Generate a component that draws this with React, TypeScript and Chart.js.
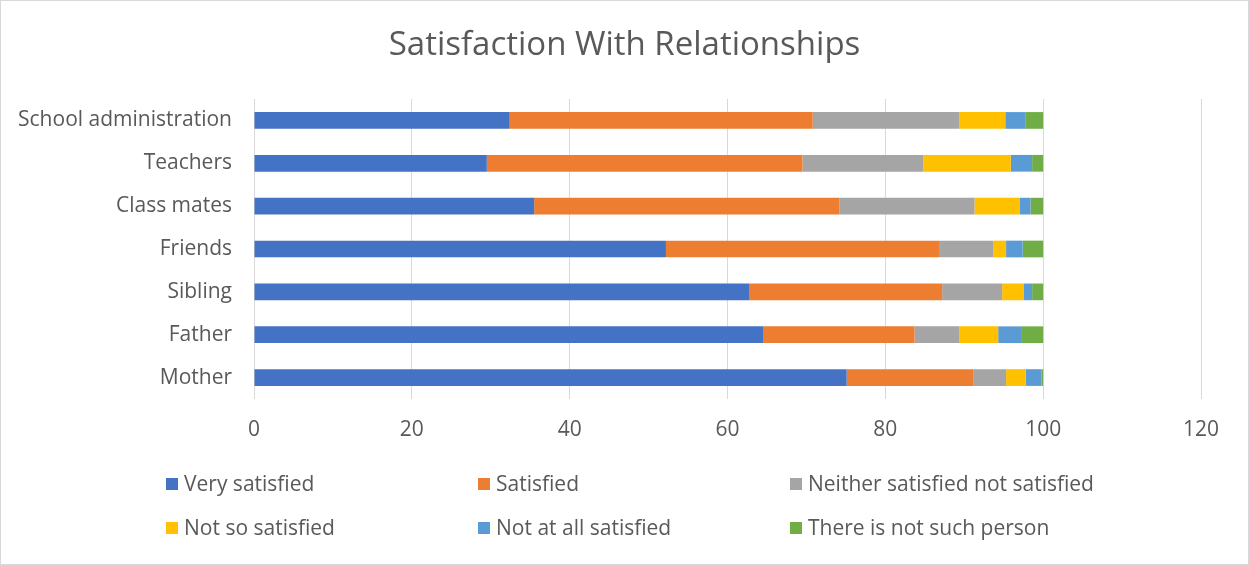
import React, { useEffect, useRef } from "react";
import { Chart, registerables } from "chart.js";

Chart.register(...registerables);

const categories = [
  "School administration",
  "Teachers",
  "Class mates",
  "Friends",
  "Sibling",
  "Father",
  "Mother",
];

const verySatisfied = [32.4, 29.5, 35.5, 52.2, 62.8, 64.5, 75.1];
const satisfied = [38.4, 40.0, 38.7, 34.7, 24.4, 19.2, 16.1];
const neither = [18.6, 15.3, 17.1, 6.8, 7.6, 5.7, 4.1];
const notSo = [5.8, 11.1, 5.7, 1.6, 2.7, 4.9, 2.5];
const notAtAll = [2.6, 2.7, 1.4, 2.1, 1.1, 2.9, 2.0];
const noSuchPerson = [2.2, 1.4, 1.6, 2.6, 1.4, 2.8, 0.2];

const seriesNames = [
  "Very satisfied",
  "Satisfied",
  "Neither satisfied not satisfied",
  "Not so satisfied",
  "Not at all satisfied",
  "There is not such person",
];
const seriesColors = ["#4472C4", "#ED7D31", "#A5A5A5", "#FFC000", "#5B9BD5", "#70AD47"];
const seriesData = [verySatisfied, satisfied, neither, notSo, notAtAll, noSuchPerson];

const xMin = 0;
const xMax = 120;
const xStep = 20;

const titleText = "Satisfaction With Relationships";
const FONT = "'Open Sans', Lato, sans-serif";
const TEXT_COLOR = "#595959";

const overlayPlugin = {
  id: "overlay",
  afterDraw(chart: any) {
    const ctx = chart.ctx as CanvasRenderingContext2D;
    ctx.save();
    // title
    ctx.fillStyle = TEXT_COLOR;
    ctx.font = `33px ${FONT}`;
    ctx.textAlign = "center";
    ctx.textBaseline = "middle";
    ctx.fillText(titleText, chart.width / 2, 45);
    // legend: 3 columns x 2 rows
    const colX = [165, 477, 789];
    const rowY = [483, 527];
    ctx.font = `21px ${FONT}`;
    ctx.textAlign = "left";
    chart.data.datasets.forEach((ds: any, i: number) => {
      const c = i % 3;
      const r = Math.floor(i / 3);
      const x = colX[c];
      const y = rowY[r];
      ctx.fillStyle = ds.backgroundColor;
      ctx.fillRect(x, y - 6, 12, 12);
      ctx.fillStyle = TEXT_COLOR;
      ctx.fillText(ds.label, x + 18, y + 1);
    });
    ctx.restore();
  },
};

export default function App() {
  const canvasRef = useRef<HTMLCanvasElement | null>(null);

  useEffect(() => {
    document.body.style.margin = "0";
    const canvas = canvasRef.current;
    if (!canvas) return;
    const chart = new Chart(canvas, {
      type: "bar",
      data: {
        labels: categories,
        datasets: seriesNames.map((name, i) => ({
          label: name,
          data: seriesData[i],
          backgroundColor: seriesColors[i],
          borderWidth: 0,
          barPercentage: 0.39,
          categoryPercentage: 1,
        })),
      },
      options: {
        indexAxis: "y",
        responsive: false,
        animation: false,
        maintainAspectRatio: false,
        layout: { padding: { top: 98, right: 47, bottom: 114, left: 0 } },
        plugins: {
          legend: { display: false },
          title: { display: false },
          tooltip: { enabled: false },
        },
        scales: {
          x: {
            stacked: true,
            min: xMin,
            max: xMax,
            ticks: {
              stepSize: xStep,
              color: TEXT_COLOR,
              font: { family: FONT, size: 21 },
              padding: 18,
              maxRotation: 0,
            },
            grid: { color: "#d9d9d9", lineWidth: 1, drawTicks: false },
            border: { display: false },
            afterFit: (scale: any) => {
              scale.height = 51;
            },
          },
          y: {
            stacked: true,
            ticks: {
              color: TEXT_COLOR,
              font: { family: FONT, size: 21 },
              padding: 22,
            },
            grid: { display: false, drawTicks: false },
            border: { display: false },
            afterFit: (scale: any) => {
              scale.width = 253;
            },
          },
        },
      },
      plugins: [overlayPlugin],
    } as any);
    return () => chart.destroy();
  }, []);

  return (
    <div
      style={{
        width: 1249,
        height: 565,
        boxSizing: "border-box",
        border: "1px solid #d9d9d9",
        position: "relative",
        background: "#fff",
      }}
    >
      <canvas
        ref={canvasRef}
        width={1247}
        height={563}
        style={{ display: "block", width: 1247, height: 563 }}
      />
    </div>
  );
}
